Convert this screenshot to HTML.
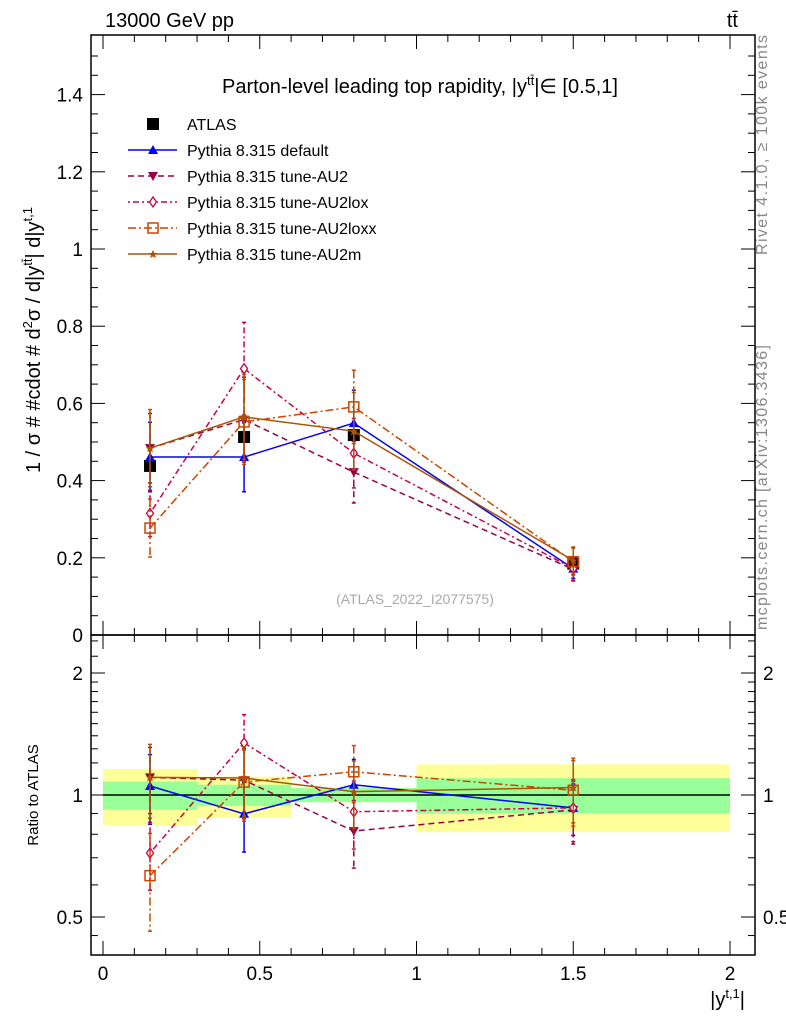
<!DOCTYPE html>
<html><head><meta charset="utf-8"><style>
body{margin:0;background:#fff;}
svg{display:block;font-family:"Liberation Sans",sans-serif;}
</style></head><body>
<svg id="chart" width="786" height="1024" viewBox="0 0 786 1024">
<text x="105" y="27" font-size="20">13000 GeV pp</text>
<text x="738" y="27" font-size="20" text-anchor="end">tt̄</text>
<text x="420" y="93" font-size="20" text-anchor="middle">Parton-level leading top rapidity, |y<tspan font-size="13" dy="-8">tt̄</tspan><tspan dy="8">|∈ [0.5,1]</tspan></text>
<text transform="translate(767,255) rotate(-90)" font-size="16" fill="#888" textLength="220" lengthAdjust="spacing" text-anchor="start">Rivet 4.1.0, ≥ 100k events</text>
<text transform="translate(767,630) rotate(-90)" font-size="16" fill="#888" textLength="285" lengthAdjust="spacing">mcplots.cern.ch [arXiv:1306.3436]</text>
<text x="415" y="604" font-size="14" fill="#aaa" text-anchor="middle">(ATLAS_2022_I2077575)</text>
<text transform="translate(40,340) rotate(-90)" font-size="20" text-anchor="middle">1 / σ # #cdot # d<tspan font-size="13" dy="-8">2</tspan><tspan dy="8">σ / d|y</tspan><tspan font-size="13" dy="-8">tt̄</tspan><tspan dy="8">| d|y</tspan><tspan font-size="13" dy="-8">t,1</tspan></text>
<text transform="translate(38,795) rotate(-90)" font-size="15" text-anchor="middle">Ratio to ATLAS</text>
<text x="745" y="1006" font-size="20" text-anchor="end">|y<tspan font-size="13" dy="-8">t,1</tspan><tspan dy="8">|</tspan></text>
<g id="g"></g>
</svg>
<script>
const NS="http://www.w3.org/2000/svg";
const binLo=[0,0.3,0.6,1.0];
const binHi=[0.3,0.6,1.0,2.0];
const xCenters=[0.15,0.45,0.8,1.5];
const atlas=[0.438,0.513,0.518,0.185];
const atlasStatRel=[0.08,0.06,0.04,0.10];
const atlasTotUp=[0.16,0.11,0.045,0.19];
const atlasTotDn=[0.16,0.12,0.04,0.19];
const seriesNames=["Pythia 8.315 default","Pythia 8.315 tune-AU2","Pythia 8.315 tune-AU2lox","Pythia 8.315 tune-AU2loxx","Pythia 8.315 tune-AU2m"];
const valDefault=[0.461,0.461,0.549,0.172];
const valAU2=[0.484,0.558,0.422,0.170];
const valAU2lox=[0.315,0.690,0.471,0.172];
const valAU2loxx=[0.277,0.552,0.591,0.190];
const valAU2m=[0.484,0.565,0.528,0.193];
const errDefault=[0.09,0.09,0.085,0.025];
const errAU2=[0.09,0.11,0.08,0.03];
const errAU2lox=[0.06,0.12,0.09,0.03];
const errAU2loxx=[0.075,0.11,0.095,0.035];
const errAU2m=[0.10,0.11,0.10,0.035];
const yTicks=[0,0.2,0.4,0.6,0.8,1,1.2,1.4];
const yTickLabels=["0","0.2","0.4","0.6","0.8","1","1.2","1.4"];
const xTicks=[0,0.5,1,1.5,2];
const xTickLabels=["0","0.5","1","1.5","2"];
const rTicks=[0.5,1,2];
const rTickLabels=["0.5","1","2"];

const L=91,R=755,T=35,MB=635,RB=955;
const X=v=>103+v*313.5;
const Y=v=>635-v*386;
const RY=v=>795-Math.log2(v)*122;
const g=document.getElementById('g');
function el(t,a,p){const e=document.createElementNS(NS,t);for(const k in a)e.setAttribute(k,a[k]);(p||g).appendChild(e);return e;}

for(let i=0;i<binLo.length;i++){
  const yb=el('rect',{x:X(binLo[i]),y:RY(1+atlasTotUp[i]),width:X(binHi[i])-X(binLo[i]),height:RY(1-atlasTotDn[i])-RY(1+atlasTotUp[i]),fill:'#ffff99'});
  
  
  const gb=el('rect',{x:X(binLo[i]),y:RY(1+atlasStatRel[i]),width:X(binHi[i])-X(binLo[i]),height:RY(1-atlasStatRel[i])-RY(1+atlasStatRel[i]),fill:'#99ff99'});
  
  
}
el('line',{x1:X(0),x2:X(2),y1:RY(1),y2:RY(1),stroke:'#000','stroke-width':1.5});

const f1=el('rect',{x:L,y:T,width:R-L,height:MB-T,fill:'none',stroke:'#000','stroke-width':1.5});


const f2=el('rect',{x:L,y:MB,width:R-L,height:RB-MB,fill:'none',stroke:'#000','stroke-width':1.5});



for(let v=0;v<=1.55;v+=0.05){const big=Math.abs(v/0.2-Math.round(v/0.2))<1e-6;const l=big?14:7;
 el('line',{x1:L,x2:L+l,y1:Y(v),y2:Y(v),stroke:'#000'});el('line',{x1:R,x2:R-l,y1:Y(v),y2:Y(v),stroke:'#000'});}
yTicks.forEach((v,i)=>{const t=el('text',{x:L-8,y:Y(v)+7,'font-size':19,'text-anchor':'end'});t.textContent=yTickLabels[i];
 
 });
const minor=[0.45,0.5,0.6,0.7,0.8,0.9,1,1.1,1.2,1.3,1.4,1.5,1.6,1.7,1.8,1.9,2,2.2,2.4];
minor.forEach(v=>{const big=rTicks.includes(v);const l=big?14:7;
 el('line',{x1:L,x2:L+l,y1:RY(v),y2:RY(v),stroke:'#000'});el('line',{x1:R,x2:R-l,y1:RY(v),y2:RY(v),stroke:'#000'});});
rTicks.forEach((v,i)=>{const t=el('text',{x:L-8,y:RY(v)+7,'font-size':19,'text-anchor':'end'});t.textContent=rTickLabels[i];
 
 
 const t2=el('text',{x:R+8,y:RY(v)+7,'font-size':19});t2.textContent=rTickLabels[i];
 
 });
for(let k=0;k<=2.05;k+=0.1){const v=Math.round(k*10)/10;const big=Math.abs(v*2-Math.round(v*2))<1e-6;const l=big?14:7;
 [[T,1],[MB,-1],[MB,1],[RB,-1]].forEach(([y0,d])=>el('line',{x1:X(v),x2:X(v),y1:y0,y2:y0+d*l,stroke:'#000'}));}
xTicks.forEach((v,i)=>{const t=el('text',{x:X(v),y:980,'font-size':19,'text-anchor':'middle'});t.textContent=xTickLabels[i];
 
 });

const vals=[valDefault,valAU2,valAU2lox,valAU2loxx,valAU2m];
const errs=[errDefault,errAU2,errAU2lox,errAU2loxx,errAU2m];
const colors=['#0000ff','#990044','#cc0044','#cc4400','#aa5500'];
const dashes=['none','6,4','2,3,6,3','8,3,2,3','none'];
const markers=['tri','itri','diamond','square','star'];
function marker(type,x,y,c,par){
 if(type==='sq')return el('rect',{x:x-6,y:y-6,width:12,height:12,fill:'#000'},par);
 if(type==='tri')return el('path',{d:`M${x},${y-5}L${x+5},${y+4}L${x-5},${y+4}Z`,fill:c},par);
 if(type==='itri')return el('path',{d:`M${x},${y+5}L${x+5},${y-4}L${x-5},${y-4}Z`,fill:c},par);
 if(type==='diamond')return el('path',{d:`M${x},${y-5}L${x+3.5},${y}L${x},${y+5}L${x-3.5},${y}Z`,fill:'#fff',stroke:c,'stroke-width':1.3},par);
 if(type==='square')return el('rect',{x:x-5,y:y-5,width:10,height:10,fill:'none',stroke:c,'stroke-width':1.5},par);
 return el('path',{d:`M${x},${y-4}L${x+1.5},${y-1}L${x+4},${y-1}L${x+2},${y+1.2}L${x+3},${y+4}L${x},${y+2.5}L${x-3},${y+4}L${x-2},${y+1.2}L${x-4},${y-1}L${x-1.5},${y-1}Z`,fill:c},par);
}
atlas.forEach((v,i)=>{const m=marker('sq',X(xCenters[i]),Y(v),'#000');
 
 });
vals.forEach((arr,s)=>{
 const c=colors[s];
 const sg=el('g',{});
 
 
 const da=dashes[s]==='none'?{}:{'stroke-dasharray':dashes[s]};
 el('polyline',Object.assign({points:arr.map((v,i)=>X(xCenters[i])+','+Y(v)).join(' '),fill:'none',stroke:c,'stroke-width':1.5},da),sg);
 el('polyline',Object.assign({points:arr.map((v,i)=>X(xCenters[i])+','+RY(v/atlas[i])).join(' '),fill:'none',stroke:c,'stroke-width':1.5},da),sg);
 arr.forEach((v,i)=>{const x=X(xCenters[i]);const e=errs[s][i];
  [[Y(v+e),Y(v-e)],[RY((v+e)/atlas[i]),RY((v-e)/atlas[i])]].forEach(([a,b])=>{
   el('line',Object.assign({x1:x,x2:x,y1:a,y2:b,stroke:c,'stroke-width':1.5},da),sg);
   el('line',{x1:x-2,x2:x+2,y1:a,y2:a,stroke:c,'stroke-width':1.5},sg);
   el('line',{x1:x-2,x2:x+2,y1:b,y2:b,stroke:c,'stroke-width':1.5},sg);});
  const m1=marker(markers[s],x,Y(v),c,sg);
  
  
  const m2=marker(markers[s],x,RY(v/atlas[i]),c,sg);
  
  });
});

const lg=el('g',{});


marker('sq',153,124,'#000',lg);
const lt=el('text',{x:187,y:130,'font-size':16},lg);lt.textContent='ATLAS';


seriesNames.forEach((n,s)=>{const y=124+(s+1)*26;const c=colors[s];
 const da=dashes[s]==='none'?{}:{'stroke-dasharray':dashes[s]};
 el('line',Object.assign({x1:128,x2:177,y1:y,y2:y,stroke:c,'stroke-width':1.5},da),lg);
 marker(markers[s],153,y,c,lg);
 const t=el('text',{x:187,y:y+6,'font-size':16},lg);t.textContent=n;
 
 });
</script>
</body></html>
